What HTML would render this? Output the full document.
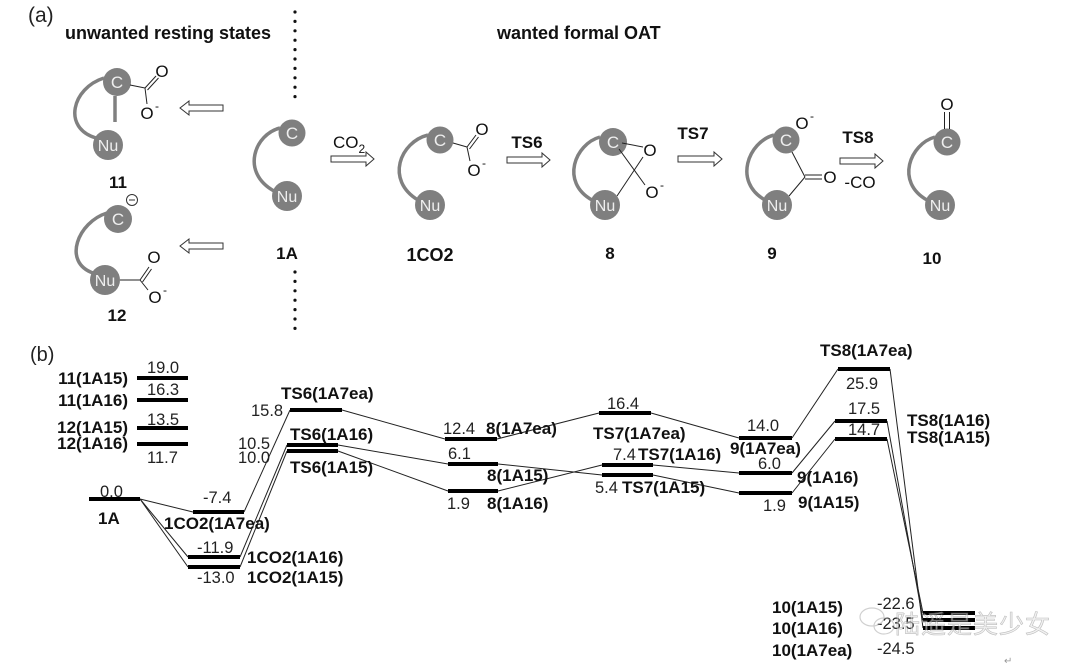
<!DOCTYPE html>
<html><head><meta charset="utf-8"><style>
html,body{margin:0;padding:0;background:#fff;}
svg{display:block;}
text{font-family:"Liberation Sans",Arial,sans-serif;}
.b{font-weight:bold;font-size:17px;fill:#111;}
.n{font-size:16.5px;fill:#222;}
.m{font-size:17px;fill:#eee;text-anchor:middle;}
.mu{font-size:16px;fill:#eee;text-anchor:middle;}
.o{font-size:17px;fill:#111;text-anchor:middle;}
.sup{font-size:12px;fill:#111;}
.bar{stroke:#000;stroke-width:4;}
.ln{stroke:#222;stroke-width:1;fill:none;}
.arc{stroke:#808080;stroke-width:3.5;fill:none;}
.cir{fill:#7f7f7f;}
.bd{stroke:#222;stroke-width:1;fill:none;}
.arr{fill:#fff;stroke:#333;stroke-width:1;}
</style></head><body>
<svg width="1080" height="668" viewBox="0 0 1080 668" xmlns="http://www.w3.org/2000/svg">
<!-- Part (a) -->
<text x="28" y="22" style="font-size:21px;fill:#222">(a)</text>
<text x="65" y="39" style="font-size:18px;font-weight:bold;fill:#111">unwanted resting states</text>
<text x="497" y="39" style="font-size:18px;font-weight:bold;fill:#111">wanted formal OAT</text>
<line x1="295" y1="12" x2="295" y2="98" stroke="#111" stroke-width="3.2" stroke-linecap="round" stroke-dasharray="0 9.4"/>
<line x1="295" y1="272" x2="295" y2="330" stroke="#111" stroke-width="3.2" stroke-linecap="round" stroke-dasharray="0 9.4"/>

<!-- molecule 11 -->
<path class="arc" d="M104 78 C72 88, 62 128, 96 138"/>
<line x1="115" y1="96" x2="115" y2="122" stroke="#808080" stroke-width="3.5"/>
<circle class="cir" cx="117" cy="82" r="14"/>
<circle class="cir" cx="108" cy="145" r="15"/>
<text class="m" x="117" y="88">C</text>
<text class="mu" x="108" y="151">Nu</text>
<line class="bd" x1="130" y1="85" x2="145" y2="88"/>
<line class="bd" x1="145" y1="88" x2="156" y2="76"/>
<line class="bd" x1="147.5" y1="90" x2="158.5" y2="78"/>
<line class="bd" x1="145" y1="88" x2="147" y2="104"/>
<text class="o" x="162" y="77">O</text>
<text class="o" x="147" y="119">O</text>
<text class="sup" x="155" y="110">-</text>
<text x="118" y="188" text-anchor="middle" style="font-size:17px;font-weight:bold;fill:#111">11</text>
<polygon class="arr" points="223,105 189,105 189,101 180,108 189,115 189,111 223,111"/>

<!-- molecule 12 -->
<path class="arc" d="M107 213 C78 222, 62 262, 93 273"/>
<circle class="cir" cx="118" cy="219" r="14"/>
<circle class="cir" cx="105" cy="280" r="15"/>
<text class="m" x="118" y="225">C</text>
<text class="mu" x="105" y="286">Nu</text>
<circle cx="132" cy="200" r="5.5" fill="#fff" stroke="#333" stroke-width="1"/>
<line x1="129" y1="200" x2="135" y2="200" stroke="#333" stroke-width="1"/>
<line class="bd" x1="120" y1="280" x2="140" y2="280"/>
<line class="bd" x1="140" y1="280" x2="149" y2="267"/>
<line class="bd" x1="142.5" y1="282" x2="151.5" y2="269"/>
<line class="bd" x1="140" y1="280" x2="148" y2="290"/>
<text class="o" x="154" y="263">O</text>
<text class="o" x="155" y="303">O</text>
<text class="sup" x="163" y="294">-</text>
<text x="117" y="321" text-anchor="middle" style="font-size:17px;font-weight:bold;fill:#111">12</text>
<polygon class="arr" points="223,243 189,243 189,239 180,246 189,253 189,249 223,249"/>

<!-- 1A -->
<path class="arc" d="M280 128 C255 134, 240 172, 274 191"/>
<circle class="cir" cx="292" cy="133" r="13.5"/>
<circle class="cir" cx="287" cy="196" r="15"/>
<text class="m" x="292" y="139">C</text>
<text class="mu" x="287" y="202">Nu</text>
<text x="287" y="259" text-anchor="middle" style="font-size:17px;font-weight:bold;fill:#111">1A</text>

<!-- arrow CO2 -->
<text x="333" y="148" style="font-size:17px;fill:#111">CO<tspan dy="5" style="font-size:12px">2</tspan></text>
<polygon class="arr" points="331,156 366,156 366,152 374,159 366,166 366,162 331,162"/>

<!-- 1CO2 -->
<path class="arc" d="M428 135 C400 142, 385 180, 418 200"/>
<circle class="cir" cx="440" cy="140" r="13.5"/>
<circle class="cir" cx="430" cy="205" r="15"/>
<text class="m" x="440" y="146">C</text>
<text class="mu" x="430" y="211">Nu</text>
<line class="bd" x1="453" y1="143" x2="467" y2="147"/>
<line class="bd" x1="467" y1="147" x2="476" y2="135"/>
<line class="bd" x1="469.5" y1="149" x2="478.5" y2="137"/>
<line class="bd" x1="467" y1="147" x2="470" y2="161"/>
<text class="o" x="482" y="135">O</text>
<text class="o" x="474" y="176">O</text>
<text class="sup" x="482" y="167">-</text>
<text x="430" y="261" text-anchor="middle" style="font-size:18px;font-weight:bold;fill:#111">1CO2</text>

<!-- TS6 arrow -->
<text x="527" y="148" text-anchor="middle" style="font-size:17px;font-weight:bold;fill:#111">TS6</text>
<polygon class="arr" points="507,157 542,157 542,153 550,160 542,167 542,163 507,163"/>

<!-- 8 -->
<path class="arc" d="M600 137 C575 144, 560 182, 592 200"/>
<circle class="cir" cx="613" cy="142" r="14"/>
<circle class="cir" cx="605" cy="205" r="15"/>
<text class="m" x="613" y="148">C</text>
<text class="mu" x="605" y="211">Nu</text>
<line class="bd" x1="622" y1="143" x2="643" y2="147"/>
<line class="bd" x1="619" y1="149" x2="645" y2="185"/>
<line class="bd" x1="617" y1="196" x2="643" y2="157"/>
<text class="o" x="650" y="156">O</text>
<text class="o" x="652" y="198">O</text>
<text class="sup" x="660" y="189">-</text>
<text x="610" y="259" text-anchor="middle" style="font-size:17px;font-weight:bold;fill:#111">8</text>

<!-- TS7 arrow -->
<text x="693" y="139" text-anchor="middle" style="font-size:17px;font-weight:bold;fill:#111">TS7</text>
<polygon class="arr" points="678,156 714,156 714,152 722,159 714,166 714,162 678,162"/>

<!-- 9 -->
<path class="arc" d="M774 135 C748 142, 733 182, 765 200"/>
<circle class="cir" cx="786" cy="140" r="13.5"/>
<circle class="cir" cx="777" cy="205" r="15"/>
<text class="m" x="786" y="146">C</text>
<text class="mu" x="777" y="211">Nu</text>
<line class="bd" x1="792" y1="152" x2="805" y2="177"/>
<line class="bd" x1="789" y1="196" x2="805" y2="177"/>
<line class="bd" x1="805" y1="175" x2="822" y2="175"/>
<line class="bd" x1="805" y1="179" x2="822" y2="179"/>
<text class="o" x="830" y="183">O</text>
<text class="o" x="802" y="129">O</text>
<text class="sup" x="810" y="120">-</text>
<text x="772" y="259" text-anchor="middle" style="font-size:17px;font-weight:bold;fill:#111">9</text>

<!-- TS8 arrow -->
<text x="858" y="143" text-anchor="middle" style="font-size:17px;font-weight:bold;fill:#111">TS8</text>
<polygon class="arr" points="840,158 875,158 875,154 883,161 875,168 875,164 840,164"/>
<text x="860" y="188" text-anchor="middle" style="font-size:17px;fill:#111">-CO</text>

<!-- 10 -->
<path class="arc" d="M935 137 C910 144, 895 182, 927 200"/>
<circle class="cir" cx="947" cy="142" r="13.5"/>
<circle class="cir" cx="940" cy="205" r="15"/>
<text class="m" x="947" y="148">C</text>
<text class="mu" x="940" y="211">Nu</text>
<line class="bd" x1="944.5" y1="112" x2="944.5" y2="129"/>
<line class="bd" x1="949.5" y1="112" x2="949.5" y2="129"/>
<text class="o" x="947" y="110">O</text>
<text x="932" y="264" text-anchor="middle" style="font-size:17px;font-weight:bold;fill:#111">10</text>

<!-- Part (b) -->
<text x="30" y="361" style="font-size:20px;fill:#222">(b)</text>

<!-- resting state bars -->
<line class="bar" x1="137" y1="378" x2="188" y2="378"/>
<line class="bar" x1="137" y1="400" x2="188" y2="400"/>
<line class="bar" x1="137" y1="428" x2="188" y2="428"/>
<line class="bar" x1="137" y1="444" x2="188" y2="444"/>
<text class="b" x="128" y="384" text-anchor="end">11(1A15)</text>
<text class="b" x="128" y="406" text-anchor="end">11(1A16)</text>
<text class="b" x="128" y="433" text-anchor="end">12(1A15)</text>
<text class="b" x="128" y="449" text-anchor="end">12(1A16)</text>
<text class="n" x="147" y="373">19.0</text>
<text class="n" x="147" y="395">16.3</text>
<text class="n" x="147" y="425">13.5</text>
<text class="n" x="147" y="463">11.7</text>

<!-- connectors -->
<g class="ln">
<line x1="140" y1="499" x2="193" y2="512"/>
<line x1="140" y1="499" x2="188" y2="557"/>
<line x1="140" y1="499" x2="188" y2="567"/>
<line x1="244" y1="512" x2="290" y2="410"/>
<line x1="240" y1="557" x2="287" y2="445"/>
<line x1="240" y1="567" x2="287" y2="451"/>
<line x1="342" y1="410" x2="445" y2="439"/>
<line x1="338" y1="445" x2="448" y2="464"/>
<line x1="338" y1="451" x2="448" y2="491"/>
<line x1="497" y1="439" x2="599" y2="413"/>
<line x1="498" y1="464" x2="602" y2="475"/>
<line x1="498" y1="491" x2="602" y2="465"/>
<line x1="651" y1="413" x2="739" y2="438"/>
<line x1="653" y1="465" x2="739" y2="473"/>
<line x1="653" y1="475" x2="739" y2="493"/>
<line x1="792" y1="438" x2="838" y2="369"/>
<line x1="792" y1="473" x2="835" y2="421"/>
<line x1="792" y1="493" x2="835" y2="439"/>
<line x1="890" y1="369" x2="923" y2="628"/>
<line x1="887" y1="421" x2="923" y2="620"/>
<line x1="887" y1="439" x2="923" y2="613"/>
</g>

<!-- energy bars -->
<line class="bar" x1="89" y1="499" x2="140" y2="499"/>
<line class="bar" x1="193" y1="512" x2="244" y2="512"/>
<line class="bar" x1="188" y1="557" x2="240" y2="557"/>
<line class="bar" x1="188" y1="567" x2="240" y2="567"/>
<line class="bar" x1="290" y1="410" x2="342" y2="410"/>
<line class="bar" x1="287" y1="445" x2="338" y2="445"/>
<line class="bar" x1="287" y1="451" x2="338" y2="451"/>
<line class="bar" x1="445" y1="439" x2="497" y2="439"/>
<line class="bar" x1="448" y1="464" x2="498" y2="464"/>
<line class="bar" x1="448" y1="491" x2="498" y2="491"/>
<line class="bar" x1="599" y1="413" x2="651" y2="413"/>
<line class="bar" x1="602" y1="465" x2="653" y2="465"/>
<line class="bar" x1="602" y1="475" x2="653" y2="475"/>
<line class="bar" x1="739" y1="438" x2="792" y2="438"/>
<line class="bar" x1="739" y1="473" x2="792" y2="473"/>
<line class="bar" x1="739" y1="493" x2="792" y2="493"/>
<line class="bar" x1="838" y1="369" x2="890" y2="369"/>
<line class="bar" x1="835" y1="421" x2="887" y2="421"/>
<line class="bar" x1="835" y1="439" x2="887" y2="439"/>
<line class="bar" x1="923" y1="613" x2="975" y2="613"/>
<line class="bar" x1="923" y1="620" x2="975" y2="620"/>
<line class="bar" x1="923" y1="628" x2="975" y2="628"/>

<!-- labels -->
<text class="n" x="100" y="497">0.0</text>
<text class="b" x="98" y="524">1A</text>
<text class="n" x="203" y="503">-7.4</text>
<text class="b" x="164" y="529">1CO2(1A7ea)</text>
<text class="n" x="197" y="553">-11.9</text>
<text class="b" x="247" y="563">1CO2(1A16)</text>
<text class="n" x="197" y="583">-13.0</text>
<text class="b" x="247" y="583">1CO2(1A15)</text>

<text class="n" x="251" y="416">15.8</text>
<text class="b" x="281" y="399">TS6(1A7ea)</text>
<text class="n" x="238" y="449">10.5</text>
<text class="n" x="238" y="463">10.0</text>
<text class="b" x="290" y="440">TS6(1A16)</text>
<text class="b" x="290" y="473">TS6(1A15)</text>

<text class="n" x="443" y="434">12.4</text>
<text class="b" x="486" y="434">8(1A7ea)</text>
<text class="n" x="448" y="459">6.1</text>
<text class="b" x="487" y="481">8(1A15)</text>
<text class="n" x="447" y="509">1.9</text>
<text class="b" x="487" y="509">8(1A16)</text>

<text class="n" x="607" y="409">16.4</text>
<text class="b" x="593" y="439">TS7(1A7ea)</text>
<text class="n" x="613" y="460">7.4</text>
<text class="b" x="638" y="460">TS7(1A16)</text>
<text class="n" x="595" y="493">5.4</text>
<text class="b" x="622" y="493">TS7(1A15)</text>

<text class="n" x="747" y="431">14.0</text>
<text class="b" x="730" y="454">9(1A7ea)</text>
<text class="n" x="758" y="469">6.0</text>
<text class="b" x="797" y="483">9(1A16)</text>
<text class="n" x="763" y="511">1.9</text>
<text class="b" x="798" y="508">9(1A15)</text>

<text class="b" x="820" y="356">TS8(1A7ea)</text>
<text class="n" x="846" y="389">25.9</text>
<text class="n" x="848" y="414">17.5</text>
<text class="n" x="848" y="435">14.7</text>
<text class="b" x="907" y="426">TS8(1A16)</text>
<text class="b" x="907" y="443">TS8(1A15)</text>

<text class="b" x="772" y="613">10(1A15)</text>
<text class="b" x="772" y="634">10(1A16)</text>
<text class="b" x="772" y="656">10(1A7ea)</text>
<text class="n" x="877" y="609">-22.6</text>
<text class="n" x="877" y="629">-23.5</text>
<text class="n" x="877" y="654">-24.5</text>

<!-- watermark -->
<g opacity="0.55">
<ellipse cx="872" cy="617" rx="12" ry="9" fill="none" stroke="#aaa" stroke-width="1.2"/>
<ellipse cx="884" cy="626" rx="10" ry="8" fill="none" stroke="#aaa" stroke-width="1.2"/>
<text x="895" y="633" style="font-family:'Noto Sans CJK SC','WenQuanYi Zen Hei',sans-serif;font-size:25px;fill:#e6e6e6;stroke:#888;stroke-width:0.6;letter-spacing:1px">陆遥是美少女</text>
</g>
<text x="1004" y="664" style="font-size:10px;fill:#999">↵</text>
</svg>
</body></html>
